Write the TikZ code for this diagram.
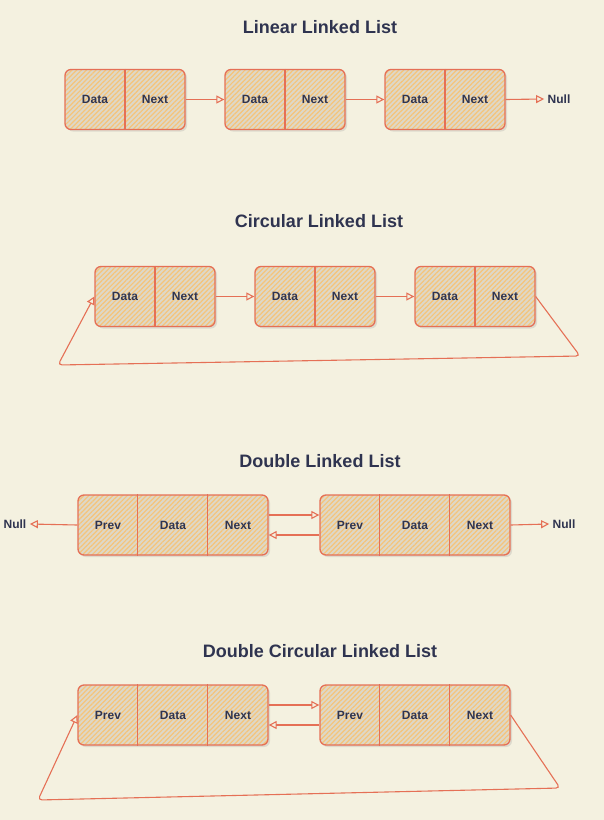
\documentclass[tikz,border=0pt]{standalone}
\usepackage{fontspec}
\setmainfont{Liberation Sans}
\usetikzlibrary{arrows.meta,patterns.meta,shadows}
\definecolor{bg}{RGB}{244,241,224}
\definecolor{edge}{RGB}{229,112,86}
\definecolor{ink}{RGB}{47,52,80}
\definecolor{cellbase}{RGB}{222,216,200}
\definecolor{hatch}{RGB}{245,196,122}
\begin{document}
\begin{tikzpicture}[x=1pt,y=-1pt,
  box/.style={draw=edge, line width=1.3pt, rounded corners=6pt, minimum height=60pt, inner sep=0pt,
    drop shadow={shadow xshift=2pt,shadow yshift=-2pt,opacity=.22,fill=black!45},
    preaction={fill=cellbase},
    pattern={Lines[angle=45,distance=3.4pt,line width=1.2pt]}, pattern color=hatch},
  sbox/.style={box, minimum width=120pt},
  dbox/.style={box, minimum width=190pt},
  divider/.style={draw=edge, line width=1.1pt},
  cell/.style={font=\bfseries\fontsize{12}{14}\selectfont, text=ink},
  title/.style={font=\bfseries\fontsize{18}{22}\selectfont, text=ink},
  link/.style={draw=edge, line width=1.1pt, -{Triangle[open,length=8pt,width=8pt]}},
  loop/.style={link, rounded corners=4pt}
]
\useasboundingbox[fill=bg] (0,0) rectangle (604,820);

% ---------- Linear ----------
\node[title] (t1) at (320,27) {Linear Linked List};
\node[sbox] (l1) at (125,99.5) {};
\node[sbox] (l2) at (285,99.5) {};
\node[sbox] (l3) at (445,99.5) {};
\foreach \b in {l1,l2,l3}{
  \draw[divider] (\b.north) -- (\b.south);
  \node[cell] (\b d) at ([xshift=-30pt]\b.center) {Data};
  \node[cell] (\b n) at ([xshift=30pt]\b.center) {Next};
}
\node[cell] (ln) at (559,99) {Null};
\draw[link] (l1.east) -- (l2.west);
\draw[link] (l2.east) -- (l3.west);
\draw[link] (l3.east) -- (ln.west);

% ---------- Circular ----------
\node[title] (t2) at (319,221) {Circular Linked List};
\node[sbox] (c1) at (155,296.5) {};
\node[sbox] (c2) at (315,296.5) {};
\node[sbox] (c3) at (475,296.5) {};
\foreach \b in {c1,c2,c3}{
  \draw[divider] (\b.north) -- (\b.south);
  \node[cell] (\b d) at ([xshift=-30pt]\b.center) {Data};
  \node[cell] (\b n) at ([xshift=30pt]\b.center) {Next};
}
\draw[link] (c1.east) -- (c2.west);
\draw[link] (c2.east) -- (c3.west);
\coordinate (ca) at (580,356);
\coordinate (cb) at (58,365);
\draw[loop] (c3.east) -- (ca) -- (cb) -- (c1.west);

% ---------- Double ----------
\node[title] (t3) at (320,461) {Double Linked List};
\node[dbox] (d1) at (173,525) {};
\node[dbox] (d2) at (415,525) {};
\foreach \b in {d1,d2}{
  \draw[divider] ([xshift=60pt]\b.north west) -- ([xshift=60pt]\b.south west);
  \draw[divider] ([xshift=130pt]\b.north west) -- ([xshift=130pt]\b.south west);
  \node[cell] (\b p) at ([xshift=-65pt]\b.center) {Prev};
  \node[cell] (\b d) at (\b.center) {Data};
  \node[cell] (\b n) at ([xshift=65pt]\b.center) {Next};
}
\node[cell] (dnl) at (15,524) {Null};
\node[cell] (dnr) at (564,524) {Null};
\draw[link] (d1.west) -- (dnl.east);
\draw[link] (d2.east) -- (dnr.west);
\draw[link] ([yshift=10pt]d1.east) -- ([yshift=10pt]d2.west);
\draw[link] ([yshift=-10pt]d2.west) -- ([yshift=-10pt]d1.east);

% ---------- Double Circular ----------
\node[title] (t4) at (320,651) {Double Circular Linked List};
\node[dbox] (e1) at (173,715) {};
\node[dbox] (e2) at (415,715) {};
\foreach \b in {e1,e2}{
  \draw[divider] ([xshift=60pt]\b.north west) -- ([xshift=60pt]\b.south west);
  \draw[divider] ([xshift=130pt]\b.north west) -- ([xshift=130pt]\b.south west);
  \node[cell] (\b p) at ([xshift=-65pt]\b.center) {Prev};
  \node[cell] (\b d) at (\b.center) {Data};
  \node[cell] (\b n) at ([xshift=65pt]\b.center) {Next};
}
\draw[link] ([yshift=10pt]e1.east) -- ([yshift=10pt]e2.west);
\draw[link] ([yshift=-10pt]e2.west) -- ([yshift=-10pt]e1.east);
\coordinate (ea) at (560,788);
\coordinate (eb) at (38,800);
\draw[loop] (e2.east) -- (ea) -- (eb) -- (e1.west);
\end{tikzpicture}
\end{document}
